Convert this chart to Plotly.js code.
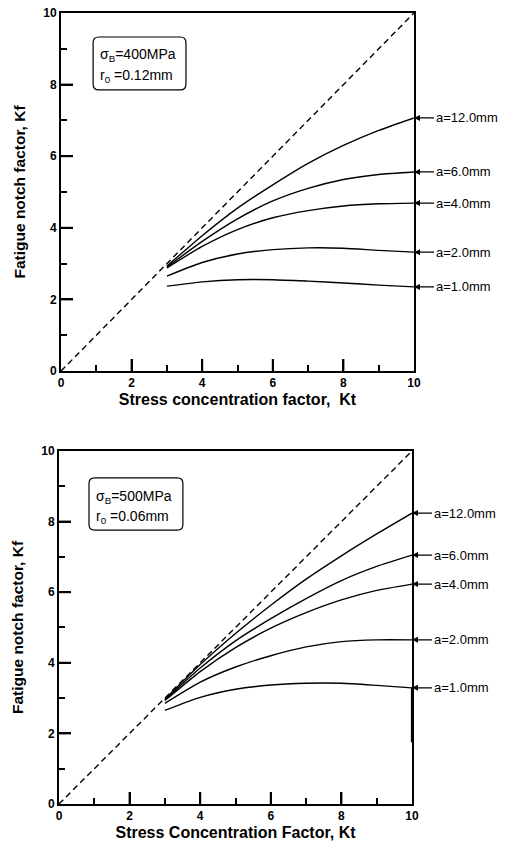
<!DOCTYPE html>
<html>
<head>
<meta charset="utf-8">
<script src="https://cdn.plot.ly/plotly-3.0.1.min.js"></script>
<style>html,body{margin:0;padding:0;background:#fff;}#chart{width:516px;height:844px;}</style>
</head>
<body>
<div id="chart"></div>
<script>
// ---- data ----
const kt = [3, 4, 5, 6, 7, 8, 9, 10];
const diagX = [0, 10];
const diagY = [0, 10];
const crackLabels = ["a=12.0mm", "a=6.0mm", "a=4.0mm", "a=2.0mm", "a=1.0mm"];
const majorTicks = [2, 4, 6, 8];

// top panel: sigmaB = 400 MPa, r0 = 0.12 mm
const top_a12 = [2.93, 3.78, 4.55, 5.20, 5.80, 6.30, 6.72, 7.07];
const top_a6  = [2.90, 3.62, 4.25, 4.75, 5.10, 5.35, 5.49, 5.56];
const top_a4  = [2.88, 3.48, 3.95, 4.28, 4.48, 4.61, 4.67, 4.69];
const top_a2  = [2.65, 3.03, 3.27, 3.39, 3.44, 3.43, 3.37, 3.32];
const top_a1  = [2.37, 2.49, 2.55, 2.55, 2.51, 2.46, 2.40, 2.35];

// bottom panel: sigmaB = 500 MPa, r0 = 0.06 mm
const bot_a12 = [2.97, 3.95, 4.83, 5.63, 6.37, 7.03, 7.65, 8.24];
const bot_a6  = [2.95, 3.85, 4.62, 5.25, 5.82, 6.33, 6.73, 7.05];
const bot_a4  = [2.93, 3.75, 4.43, 4.98, 5.42, 5.78, 6.05, 6.23];
const bot_a2  = [2.85, 3.45, 3.88, 4.20, 4.45, 4.60, 4.65, 4.65];
const bot_a1  = [2.65, 3.02, 3.25, 3.37, 3.42, 3.42, 3.36, 3.29];
const botTailX = [10, 10];
const botTailY = [3.29, 1.75];

const topSeries = [top_a12, top_a6, top_a4, top_a2, top_a1];
const botSeries = [bot_a12, bot_a6, bot_a4, bot_a2, bot_a1];

// ---- traces ----
const FONT = "Liberation Sans, Arial, Helvetica, sans-serif";
const traces = [];
function addPanel(series, xa, ya) {
  traces.push({x: diagX, y: diagY, xaxis: xa, yaxis: ya, mode: "lines",
    line: {color: "#000", width: 1.4, dash: "6px,4px"}, hoverinfo: "skip", showlegend: false});
  series.forEach((s, i) => {
    traces.push({x: kt, y: s, xaxis: xa, yaxis: ya, mode: "lines", name: crackLabels[i],
      line: {color: "#000", width: 1.4, shape: "spline", smoothing: 0.6}, showlegend: false});
  });
}
addPanel(topSeries, "x", "y");
addPanel(botSeries, "x2", "y2");
traces.push({x: botTailX, y: botTailY, xaxis: "x2", yaxis: "y2", mode: "lines",
  line: {color: "#000", width: 2.2}, hoverinfo: "skip", showlegend: false});

// ---- axes ----
function axisBase(domain, anchor) {
  return {domain: domain, anchor: anchor, range: [0, 10], dtick: 2, tick0: 0,
    ticks: "inside", ticklen: 12, tickwidth: 2, tickcolor: "#000",
    minor: {dtick: 1, tick0: 0, ticks: "inside", ticklen: 6, tickwidth: 2, tickcolor: "#000", showgrid: false},
    showline: true, mirror: true, linecolor: "#000", linewidth: 2,
    showgrid: false, zeroline: false, fixedrange: true,
    tickfont: {family: FONT, size: 12, weight: 700, color: "#000"}};
}
function xAxis(domain, anchor, title) {
  return Object.assign(axisBase(domain, anchor), {
    title: {text: title, font: {family: FONT, size: 16, weight: 700, color: "#000"}, standoff: 4}});
}
function yAxis(domain, anchor, title) {
  return Object.assign(axisBase(domain, anchor), {
    title: {text: title, font: {family: FONT, size: 15.5, weight: 700, color: "#000"}, standoff: 14}});
}

// ---- annotations ----
const annotations = [];
function addLabels(series, xa, ya) {
  series.forEach((s, i) => {
    annotations.push({x: kt[kt.length - 1], y: s[s.length - 1], xref: xa, yref: ya,
      text: crackLabels[i], showarrow: true, arrowhead: 2, arrowsize: 1, arrowwidth: 1.2,
      arrowcolor: "#000", ax: 20, ay: 0, xanchor: "left", yanchor: "middle",
      font: {family: FONT, size: 13, color: "#000"}});
  });
}
addLabels(topSeries, "x", "y");
addLabels(botSeries, "x2", "y2");

function addBoxText(lines, xa, ya, xs, ys) {
  lines.forEach((t, i) => {
    annotations.push({x: xs, y: ys[i], xref: xa, yref: ya, text: t, showarrow: false,
      xanchor: "left", yanchor: "middle", align: "left",
      font: {family: FONT, size: 14, color: "#000"}});
  });
}
addBoxText(["σ<sub>B</sub>=400MPa", "r<sub>0</sub> =0.12mm"], "x", "y", 1.05, [8.83, 8.24]);
addBoxText(["σ<sub>B</sub>=500MPa", "r<sub>0</sub> =0.06mm"], "x2", "y2", 1.0, [8.70, 8.13]);

function roundRect(x0, x1, y0, y1, r, xa, ya) {
  const ry = r;
  const p = `M ${x0 + r},${y1} L ${x1 - r},${y1} Q ${x1},${y1} ${x1},${y1 - ry} L ${x1},${y0 + ry} Q ${x1},${y0} ${x1 - r},${y0} L ${x0 + r},${y0} Q ${x0},${y0} ${x0},${y0 + ry} L ${x0},${y1 - ry} Q ${x0},${y1} ${x0 + r},${y1} Z`;
  return {type: "path", path: p, xref: xa, yref: ya, line: {color: "#000", width: 1.2}};
}
const shapes = [
  roundRect(0.91, 3.54, 7.85, 9.33, 0.16, "x", "y"),
  roundRect(0.85, 3.51, 7.76, 9.24, 0.16, "x2", "y2")
];
// long (major) inside ticks, positioned through the axes' own scales
function addMajorTicks(xa, ya, hFrac, wFrac) {
  majorTicks.forEach(v => {
    shapes.push({type: "line", xref: xa, yref: ya + " domain", x0: v, x1: v, y0: 0, y1: hFrac,
      line: {color: "#000", width: 2}});
    shapes.push({type: "line", xref: xa + " domain", yref: ya, x0: 0, x1: wFrac, y0: v, y1: v,
      line: {color: "#000", width: 2}});
  });
}
addMajorTicks("x", "y", 12 / 358, 12 / 353);
addMajorTicks("x2", "y2", 12 / 353, 12 / 353);

const layout = {
  width: 516, height: 844,
  margin: {l: 59, r: 102, t: 13, b: 40},
  paper_bgcolor: "#fff", plot_bgcolor: "#fff",
  showlegend: false,
  font: {family: FONT, color: "#000"},
  xaxis: xAxis([2 / 355, 1], "y", "Stress concentration factor,  Kt"),
  yaxis: yAxis([0.5474, 1], "x", "Fatigue notch factor, Kf"),
  xaxis2: xAxis([0, 353 / 355], "y2", "Stress Concentration Factor, Kt"),
  yaxis2: yAxis([0, 0.4463], "x2", "Fatigue notch factor, Kf"),
  annotations: annotations,
  shapes: shapes
};

Plotly.newPlot("chart", traces, layout, {displayModeBar: false, staticPlot: true});
</script>
</body>
</html>
